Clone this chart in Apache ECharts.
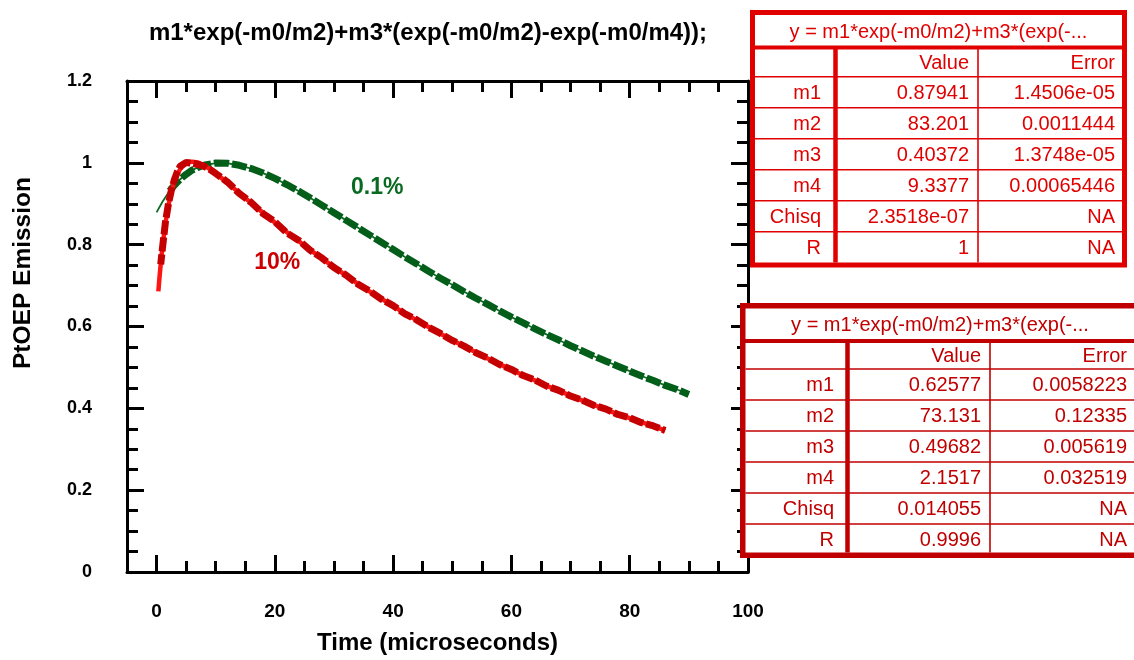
<!DOCTYPE html>
<html>
<head>
<meta charset="utf-8">
<script src="https://cdn.jsdelivr.net/npm/echarts@6/dist/echarts.min.js"></script>
<style>
html,body{margin:0;padding:0;background:#fff;}
#chart{width:1134px;height:660px;}
</style>
</head>
<body>
<div id="chart"></div>
<script>
// ---------- data ----------
const chartTitle = 'm1*exp(-m0/m2)+m3*(exp(-m0/m2)-exp(-m0/m4));';
const xName = 'Time (microseconds)';
const yName = 'PtOEP Emission';

const xMajor = [0, 20, 40, 60, 80, 100];
const xMinor = [5, 10, 15, 25, 30, 35, 45, 50, 55, 65, 70, 75, 85, 90, 95];
const yMajor = [0, 0.2, 0.4, 0.6, 0.8, 1, 1.2];
const yMinor = [0.05, 0.1, 0.15, 0.25, 0.3, 0.35, 0.45, 0.5, 0.55, 0.65, 0.7, 0.75, 0.85, 0.9, 0.95, 1.05, 1.1, 1.15];
const yTickLabels = ['0', '0.2', '0.4', '0.6', '0.8', '1', '1.2'];

// 0.1% sample: fitted curve and measured points
const greenFitT = [0, 1, 2, 3, 4, 5, 6, 7, 8, 10, 12, 14, 16, 18, 20, 22, 24, 26, 28, 30, 32, 34, 36, 38, 40, 42, 44, 46, 48, 50, 52, 54, 56, 58, 60, 62, 64, 66, 68, 70, 72, 74, 76, 78, 80, 82, 84, 86, 88, 90];
const greenFitY = [0.879, 0.905, 0.927, 0.945, 0.960, 0.972, 0.982, 0.989, 0.994, 0.9995, 0.999, 0.994, 0.986, 0.975, 0.962, 0.947, 0.931, 0.914, 0.896, 0.878, 0.860, 0.842, 0.824, 0.806, 0.788, 0.770, 0.753, 0.735, 0.718, 0.702, 0.685, 0.669, 0.654, 0.638, 0.623, 0.609, 0.594, 0.580, 0.567, 0.553, 0.540, 0.527, 0.515, 0.503, 0.491, 0.479, 0.468, 0.456, 0.446, 0.435];
const greenDataT = [2.2, 3, 4, 5, 6, 7, 8, 10, 12, 14, 16, 18, 20, 22, 24, 26, 28, 30, 32, 34, 36, 38, 40, 42, 44, 46, 48, 50, 52, 54, 56, 58, 60, 62, 64, 66, 68, 70, 72, 74, 76, 78, 80, 82, 84, 86, 88, 90];
const greenDataY = [0.931, 0.945, 0.960, 0.972, 0.982, 0.989, 0.994, 0.9995, 0.999, 0.994, 0.986, 0.975, 0.962, 0.947, 0.931, 0.914, 0.896, 0.878, 0.860, 0.842, 0.824, 0.806, 0.788, 0.770, 0.753, 0.735, 0.718, 0.702, 0.685, 0.669, 0.654, 0.638, 0.623, 0.609, 0.594, 0.580, 0.567, 0.553, 0.540, 0.527, 0.515, 0.503, 0.491, 0.479, 0.468, 0.456, 0.446, 0.434];

// 10% sample: fitted curve and measured points
const redFitT = [0.3, 0.5, 0.75, 1, 1.5, 2, 2.5, 3, 3.5, 4, 5, 6, 7, 8, 9, 10, 12, 14, 16, 18, 20, 22, 24, 26, 28, 30, 32, 34, 36, 38, 40, 42, 44, 46, 48, 50, 52, 54, 56, 58, 60, 62, 64, 66, 68, 70, 72, 74, 76, 78, 80, 82, 84, 86];
const redFitY = [0.686, 0.721, 0.760, 0.795, 0.852, 0.896, 0.929, 0.954, 0.972, 0.985, 0.9997, 1.003, 1.001, 0.994, 0.985, 0.974, 0.951, 0.926, 0.902, 0.878, 0.854, 0.831, 0.809, 0.787, 0.766, 0.745, 0.725, 0.705, 0.686, 0.668, 0.650, 0.632, 0.615, 0.599, 0.582, 0.567, 0.551, 0.537, 0.522, 0.508, 0.494, 0.481, 0.468, 0.455, 0.443, 0.431, 0.419, 0.408, 0.397, 0.386, 0.376, 0.366, 0.356, 0.346];
const redDataT = [0.7, 1, 1.5, 2, 2.5, 3, 3.5, 4, 5, 6, 7, 8, 9, 10, 12, 14, 16, 18, 20, 22, 24, 26, 28, 30, 32, 34, 36, 38, 40, 42, 44, 46, 48, 50, 52, 54, 56, 58, 60, 62, 64, 66, 68, 70, 72, 74, 76, 78, 80, 82, 84, 86];
const redDataY = [0.752, 0.792, 0.855, 0.899, 0.933, 0.958, 0.978, 0.992, 1.001, 0.999, 0.996, 0.992, 0.984, 0.974, 0.953, 0.925, 0.903, 0.876, 0.856, 0.829, 0.811, 0.786, 0.767, 0.744, 0.726, 0.704, 0.687, 0.667, 0.651, 0.631, 0.616, 0.598, 0.583, 0.566, 0.552, 0.536, 0.523, 0.507, 0.495, 0.480, 0.469, 0.454, 0.444, 0.430, 0.420, 0.407, 0.398, 0.385, 0.377, 0.365, 0.357, 0.346];

const curveLabels = ['0.1%', '10%'];
const curveLabelX = [37.3, 20.4];
const curveLabelY = [0.939, 0.755];

// fit result tables
const tableTitle = 'y = m1*exp(-m0/m2)+m3*(exp(-...';
const tableHead = ['', 'Value', 'Error'];
const tableNames = ['m1', 'm2', 'm3', 'm4', 'Chisq', 'R'];
const table1Values = ['0.87941', '83.201', '0.40372', '9.3377', '2.3518e-07', '1'];
const table1Errors = ['1.4506e-05', '0.0011444', '1.3748e-05', '0.00065446', 'NA', 'NA'];
const table2Values = ['0.62577', '73.131', '0.49682', '2.1517', '0.014055', '0.9996'];
const table2Errors = ['0.0058223', '0.12335', '0.005619', '0.032519', 'NA', 'NA'];

// ---------- chart ----------
const FONT = '"Liberation Sans", Arial, Helvetica, sans-serif';
const pairs = (ts, ys) => ts.map((t, i) => [t, ys[i]]);

function xAx(pos, vals, len, showLine, showLabel) {
  return {
    type: 'value', min: -5, max: 100, position: pos, gridIndex: 0,
    axisLine: { show: showLine, onZero: false, lineStyle: { color: '#000', width: 3 } },
    axisTick: { show: true, inside: true, length: len, customValues: vals, lineStyle: { color: '#000', width: 3 } },
    axisLabel: { show: showLabel, customValues: vals, margin: 30, color: '#000', fontFamily: FONT, fontWeight: 'bold', fontSize: 19 },
    splitLine: { show: false }
  };
}
function yAx(pos, vals, len, showLine, showLabel) {
  return {
    type: 'value', min: 0, max: 1.2, position: pos, gridIndex: 0,
    axisLine: { show: showLine, onZero: false, lineStyle: { color: '#000', width: 3 } },
    axisTick: { show: true, inside: true, length: len, customValues: vals, lineStyle: { color: '#000', width: 3 } },
    axisLabel: {
      show: showLabel, customValues: vals, margin: 35, color: '#000', fontFamily: FONT, fontWeight: 'bold', fontSize: 18,
      formatter: v => { const i = yMajor.findIndex(m => Math.abs(m - v) < 1e-6); return i >= 0 ? yTickLabels[i] : ''; }
    },
    splitLine: { show: false }
  };
}

function buildTable(g, c, values, errors) {
  const els = [];
  els.push({ type: 'rect', z: 100, shape: { x: c.L + c.bw / 2, y: c.T + c.bw / 2, width: c.R - c.L - c.bw, height: c.B - c.T - c.bw },
    style: { fill: '#fff', stroke: c.color, lineWidth: c.bw } });
  els.push({ type: 'line', z: 101, shape: { x1: c.L, y1: c.sep, x2: c.R, y2: c.sep }, style: { stroke: c.color, lineWidth: 4 } });
  const rowTops = [];
  for (let k = 0; k <= 6; k++) rowTops.push(c.headB + k * c.rowH);
  for (let k = 0; k < 6; k++) {
    els.push({ type: 'line', z: 101, shape: { x1: c.L + c.bw, y1: rowTops[k], x2: c.R - c.bw, y2: rowTops[k] }, style: { stroke: c.color, lineWidth: 1.6 } });
  }
  els.push({ type: 'line', z: 101, shape: { x1: c.v1, y1: c.sep, x2: c.v1, y2: c.B - c.bw }, style: { stroke: c.color, lineWidth: 4.5 } });
  els.push({ type: 'line', z: 101, shape: { x1: c.v2, y1: c.sep, x2: c.v2, y2: c.B - c.bw }, style: { stroke: c.color, lineWidth: 1.6 } });
  const txt = (s, x, y, align) => ({ type: 'text', z: 102, x: x, y: y,
    style: { text: s, fill: c.color, font: '20px ' + FONT, align: align, verticalAlign: 'middle' } });
  els.push(txt(tableTitle, c.titleX, (c.T + c.bw + c.sep) / 2 + 1, 'center'));
  const headY = (c.sep + c.headB) / 2 + 1;
  els.push(txt(tableHead[1], c.c2, headY, 'right'));
  els.push(txt(tableHead[2], c.c3, headY, 'right'));
  for (let k = 0; k < 6; k++) {
    const y = rowTops[k] + c.rowH / 2 + 1;
    els.push(txt(tableNames[k], c.c1, y, 'right'));
    els.push(txt(values[k], c.c2, y, 'right'));
    els.push(txt(errors[k], c.c3, y, 'right'));
  }
  return els.concat(g);
}

const t1 = { L: 750, R: 1127, T: 10, B: 267.5, bw: 5, sep: 47.5, headB: 76.7, rowH: 31, v1: 835.5, v2: 978, c1: 821, c2: 969, c3: 1115, titleX: 938.5, color: '#e00000' };
const t2 = { L: 740, R: 1140, T: 303, B: 558, bw: 5.5, sep: 341, headB: 369, rowH: 31, v1: 847.5, v2: 990, c1: 834, c2: 981, c3: 1127, titleX: 940, color: '#c00000' };

let graphics = [
  { type: 'text', x: 428, y: 33, style: { text: chartTitle, fill: '#000', font: 'bold 24px ' + FONT, align: 'center', verticalAlign: 'middle' } },
  { type: 'text', x: 23, y: 273, rotation: Math.PI / 2, style: { text: yName, fill: '#000', font: 'bold 24.5px ' + FONT, align: 'center', verticalAlign: 'middle' } }
];
graphics = buildTable(graphics, t1, table1Values, table1Errors);
graphics = buildTable(graphics, t2, table2Values, table2Errors);

const chart = echarts.init(document.getElementById('chart'), null, { renderer: 'canvas' });
chart.setOption({
  animation: false,
  backgroundColor: '#fff',
  grid: { left: 127, top: 81, width: 621, height: 492, containLabel: false },
  xAxis: [
    Object.assign(xAx('bottom', xMajor, 17, true, true), {
      name: xName, nameLocation: 'middle', nameGap: 59,
      nameTextStyle: { color: '#000', fontFamily: FONT, fontWeight: 'bold', fontSize: 24 }
    }),
    xAx('bottom', xMinor, 11, false, false),
    xAx('top', xMajor, 17, true, false),
    xAx('top', xMinor, 11, false, false)
  ],
  yAxis: [
    yAx('left', yMajor, 17, true, true),
    yAx('left', yMinor, 11, false, false),
    yAx('right', yMajor, 17, true, false),
    yAx('right', yMinor, 11, false, false)
  ],
  series: [
    { type: 'line', name: 'fit 0.1%', data: pairs(greenFitT, greenFitY), showSymbol: false, z: 2,
      lineStyle: { color: '#0d6b24', width: 1.8 } },
    { type: 'line', name: 'data 0.1%', data: pairs(greenDataT, greenDataY), showSymbol: false, z: 3,
      lineStyle: { color: '#035e1a', width: 7, type: [15, 3], cap: 'butt' } },
    { type: 'line', name: 'fit 10%', data: pairs(redFitT, redFitY), showSymbol: false, z: 4,
      lineStyle: { color: '#ff1414', width: 4.5 } },
    { type: 'line', name: 'data 10%', data: pairs(redDataT, redDataY), showSymbol: false, z: 5,
      lineStyle: { color: '#c40000', width: 7, type: [14, 3], dashOffset: 4, cap: 'butt' } },
    { type: 'scatter', name: 'labels', symbolSize: 0, z: 6,
      itemStyle: { color: 'transparent', opacity: 1 },
      data: curveLabels.map((s, i) => ({ name: s, value: [curveLabelX[i], curveLabelY[i]],
        label: { color: i === 0 ? '#0b6a22' : '#cc0000' } })),
      label: { show: true, position: 'inside', formatter: p => p.name, fontFamily: FONT, fontWeight: 'bold', fontSize: 23, opacity: 1 }
    }
  ],
  graphic: graphics
});
</script>
</body>
</html>
